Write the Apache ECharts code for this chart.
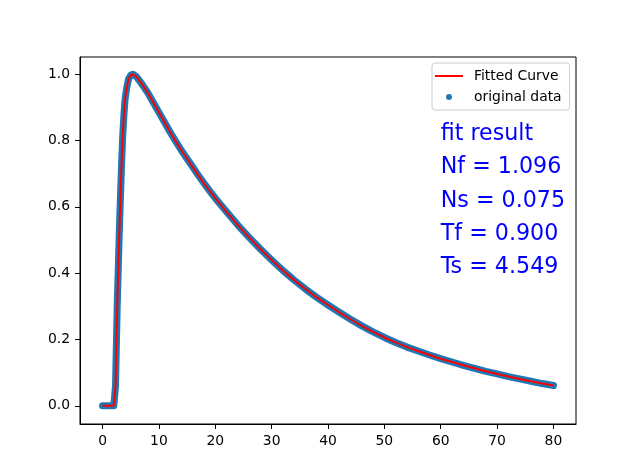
<html>
<head>
    <meta charset="utf-8">
    <script src="https://cdn.jsdelivr.net/npm/echarts@6/dist/echarts.min.js"></script>
    <style>
        body { margin: 0; background: #fff; }
        #main { width: 640px; height: 476px; }
    </style>
</head>
<body>
    <div id="main"></div>
    <script>
        // values
        var xs = [0, 0.5, 1, 1.5, 2, 2.2, 2.3, 2.4, 2.5, 2.6, 2.8, 3.0, 3.2, 3.4, 3.6, 3.8, 4.0, 4.3, 4.6, 5.0, 5.4,
            6, 7, 8, 9, 10, 11, 12, 13, 14, 15, 16, 17, 18, 19, 20, 22, 24, 26, 28, 30, 32, 34, 36, 38, 40,
            42, 44, 46, 48, 50, 52, 54, 56, 58, 60, 62, 64, 66, 68, 70, 72, 74, 76, 78, 80];
        var dataY = [0, 0, 0, 0, 0, 0, 0.06, 0.14, 0.22, 0.30, 0.42, 0.54, 0.64, 0.74, 0.82, 0.88, 0.925, 0.96, 0.985, 0.997, 1.0,
            0.993, 0.97, 0.945, 0.915, 0.885, 0.855, 0.825, 0.797, 0.77, 0.745, 0.72, 0.695, 0.671, 0.648, 0.626, 0.585, 0.545, 0.508, 0.473, 0.44,
            0.408, 0.379, 0.352, 0.327, 0.304, 0.282, 0.261, 0.241, 0.223, 0.206, 0.191, 0.177, 0.165, 0.153, 0.142,
            0.132, 0.122, 0.113, 0.104, 0.096, 0.088, 0.081, 0.074, 0.067, 0.061];
        var fitY = dataY.slice();
        var xTicks = [0, 10, 20, 30, 40, 50, 60, 70, 80];
        var yTicks = [0, 0.2, 0.4, 0.6, 0.8, 1.0];
        var resultLines = ['fit result', 'Nf = 1.096', 'Ns = 0.075', 'Tf = 0.900', 'Ts = 4.549'];
        var resultY = [0.8, 0.7, 0.6, 0.5, 0.4];

        var font = 'DejaVu Sans';
        var myChart = echarts.init(document.getElementById('main'));

        var option = {
            animation: false,
            backgroundColor: '#fff',
            grid: {
                left: 80, right: 64, top: 57, bottom: 52,
                show: true, borderColor: '#000', borderWidth: 1
            },
            legend: {
                orient: 'vertical',
                left: 432, top: 63,
                padding: [6, 8, 6, 3],
                itemWidth: 28, itemHeight: 6, itemGap: 7,
                borderColor: '#cccccc', borderWidth: 1, borderRadius: 3,
                backgroundColor: 'rgba(255,255,255,0.8)',
                textStyle: { fontFamily: font, fontSize: 13.9, color: '#000', padding: [0, 0, 0, 6] },
                data: [
                    { name: 'Fitted Curve', icon: 'path://M0 0H28V2H0Z' },
                    { name: 'original data', icon: 'circle' }
                ]
            },
            xAxis: {
                type: 'value', min: -4, max: 84,
                axisLine: { onZero: false, lineStyle: { color: '#000' } },
                axisTick: { customValues: xTicks, length: 5, lineStyle: { color: '#000' } },
                axisLabel: { customValues: xTicks, margin: 10, color: '#000', fontFamily: font, fontSize: 13.9 },
                splitLine: { show: false }
            },
            yAxis: {
                type: 'value', min: -0.055, max: 1.052,
                axisLine: { show: true, onZero: false, lineStyle: { color: '#000' } },
                axisTick: { show: true, customValues: yTicks, length: 5, lineStyle: { color: '#000' } },
                axisLabel: {
                    customValues: yTicks, margin: 10, color: '#000', fontFamily: font, fontSize: 13.9,
                    formatter: function (v) { return v.toFixed(1); }
                },
                splitLine: { show: false }
            },
            series: [
                {
                    name: 'original data',
                    type: 'line',
                    z: 2,
                    symbol: 'none',
                    color: '#1f77b4',
                    lineStyle: { color: '#1f77b4', width: 7, cap: 'round', join: 'round' },
                    data: xs.map(function (x, i) { return [x, dataY[i]]; })
                },
                {
                    name: 'Fitted Curve',
                    type: 'line',
                    z: 3,
                    symbol: 'none',
                    color: '#ff0000',
                    lineStyle: { color: '#ff0000', width: 2 },
                    data: xs.map(function (x, i) { return [x, fitY[i]]; })
                }
            ]
        };
        myChart.setOption(option);

        // fit result text, baseline at data coords (60, 0.8 ... 0.4)
        var texts = resultLines.map(function (t, i) {
            var p = myChart.convertToPixel({ gridIndex: 0 }, [60, resultY[i]]);
            return {
                type: 'text',
                x: p[0], y: p[1] + 5,
                style: {
                    text: t, fill: '#0000ff',
                    font: '22.2px "DejaVu Sans"',
                    textAlign: 'left', textVerticalAlign: 'bottom'
                }
            };
        });
        myChart.setOption({ graphic: texts });
    </script>
</body>
</html>
